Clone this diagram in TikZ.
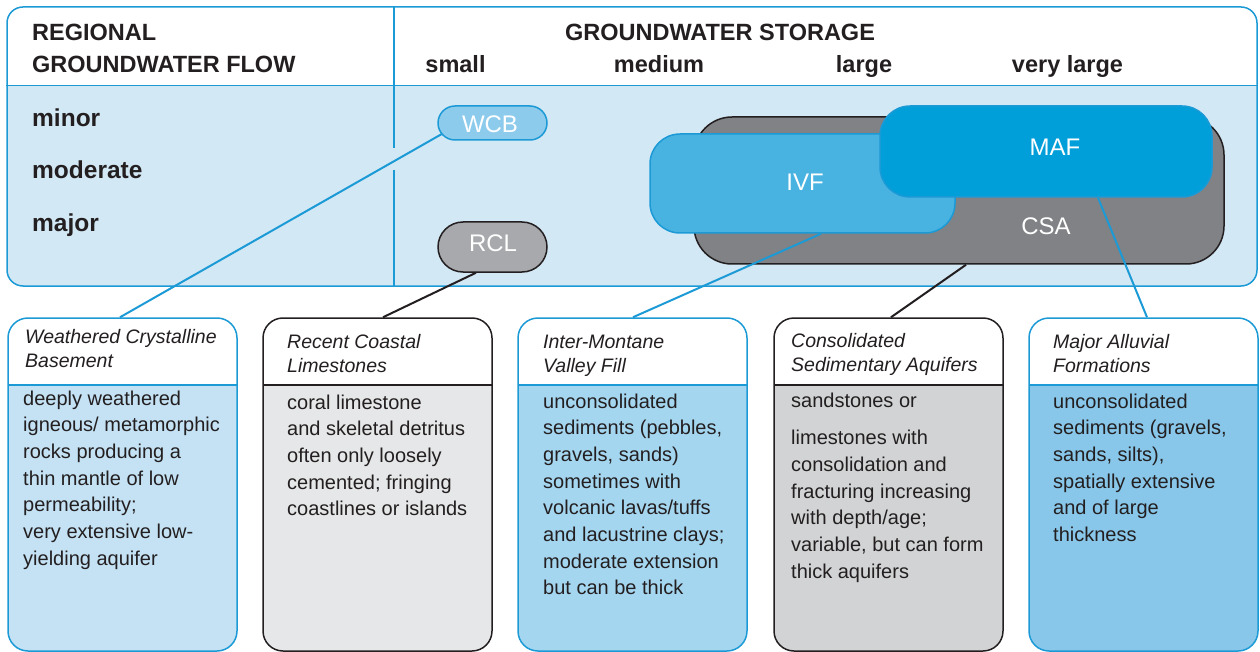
\documentclass[tikz,border=0pt]{standalone}
\usepackage{fontspec}
\setmainfont{Liberation Sans}
\usetikzlibrary{calc}
\definecolor{blueLine}{HTML}{1B9AD6}
\definecolor{darkLine}{HTML}{231F20}
\definecolor{bandFill}{HTML}{D3E8F5}
\definecolor{wcbFill}{HTML}{8DCBEC}
\definecolor{ivfFill}{HTML}{48B2E1}
\definecolor{mafFill}{HTML}{009FD9}
\definecolor{csaFill}{HTML}{808285}
\definecolor{rclFill}{HTML}{A7A9AC}
\definecolor{bodyA}{HTML}{C4E2F4}
\definecolor{bodyB}{HTML}{E6E7E8}
\definecolor{bodyC}{HTML}{A5D6F0}
\definecolor{bodyD}{HTML}{D1D3D4}
\definecolor{bodyE}{HTML}{88C7E9}
\definecolor{txt}{HTML}{231F20}
\begin{document}
\begin{tikzpicture}[x=1pt,y=-1pt,
  tablebox/.style={draw=blueLine, line width=1.5pt, rounded corners=16pt, fill=white,
    minimum width=1250pt, minimum height=279pt, inner sep=0pt,
    path picture={\fill[bandFill, sharp corners] ([yshift=-79pt]path picture bounding box.north west) rectangle (path picture bounding box.south east);}},
  infobox/.style 2 args={draw=#1, fill=#2, line width=1.5pt, rounded corners=20pt,
    minimum width=229pt, minimum height=333pt, inner sep=0pt,
    path picture={\fill[white, sharp corners] (path picture bounding box.north west) rectangle ([yshift=-67pt]path picture bounding box.north east);
      \draw[#1, line width=1.5pt, sharp corners] ([yshift=-67pt]path picture bounding box.north west) -- ([yshift=-67pt]path picture bounding box.north east);}},
  blob/.style={line width=1.5pt, inner sep=0pt},
  head/.style={font=\bfseries\fontsize{23.5}{32}\selectfont, text=txt, inner sep=0pt},
  rowlab/.style={font=\bfseries\fontsize{24.5}{28}\selectfont, text=txt, inner sep=0pt, anchor=base west},
  blobtxt/.style={font=\fontsize{24}{28}\selectfont, text=white, inner sep=0pt},
  ttl/.style={font=\itshape\fontsize{19.5}{24.5}\selectfont, text=txt, inner sep=0pt, anchor=base west, align=left},
  body/.style={font=\fontsize{20}{26.7}\selectfont, text=txt, inner sep=0pt, anchor=base west, align=left},
  conB/.style={blueLine, line width=2pt},
  conK/.style={darkLine, line width=2pt}
]
\useasboundingbox (0,0) rectangle (1260,652);

% ---------- top table ----------
\node[tablebox] (table) at (632,146.5) {};
\draw[blueLine, line width=1.2pt] ([yshift=-79pt]table.north west) -- ([yshift=-79pt]table.north east);
\draw[blueLine, line width=1.2pt] (394,7) -- (394,148);
\draw[blueLine, line width=1.2pt] (394,170) -- (394,286);

% multi-line nodes: base anchor = baseline of last line
\node[head, anchor=base west, align=left] (hflow) at (32,73) {REGIONAL\\GROUNDWATER FLOW};
\node[head, anchor=base] (hstore) at (720,41) {GROUNDWATER STORAGE};
\node[head, anchor=base] (hsmall) at (455.5,73) {small};
\node[head, anchor=base] (hmed) at (659,73) {medium};
\node[head, anchor=base] (hlarge) at (864,73) {large};
\node[head, anchor=base] (hvlarge) at (1067.5,73) {very large};

\node[rowlab] (rminor) at (32,127) {minor};
\node[rowlab] (rmod) at (32,179) {moderate};
\node[rowlab] (rmajor) at (32,232) {major};

% ---------- chart blobs ----------
\node[blob, draw=darkLine, fill=csaFill, rounded corners=38pt, minimum width=530pt, minimum height=147pt] (csa) at (959,190.5) {};
\node[blob, draw=blueLine, fill=ivfFill, rounded corners=30pt, minimum width=305pt, minimum height=99pt] (ivf) at (802.5,183.5) {};
\node[blob, draw=blueLine, fill=mafFill, rounded corners=30pt, minimum width=332pt, minimum height=91pt] (maf) at (1046,151.5) {};
\node[blob, draw=blueLine, fill=wcbFill, rounded corners=17pt, minimum width=109pt, minimum height=34pt] (wcb) at (492.5,123) {};
\node[blob, draw=darkLine, fill=rclFill, rounded corners=25pt, minimum width=109pt, minimum height=50pt] (rcl) at (492.5,247) {};

\node[blobtxt] (wcbT) at (490,124) {WCB};
\node[blobtxt] (rclT) at (493,243) {RCL};
\node[blobtxt] (ivfT) at (805,182) {IVF};
\node[blobtxt] (mafT) at (1055,147.5) {MAF};
\node[blobtxt] (csaT) at (1046,226.5) {CSA};

% ---------- bottom boxes ----------
\node[infobox={blueLine}{bodyA}] (b1) at (122.5,484.5) {};
\node[infobox={darkLine}{bodyB}] (b2) at (377.5,484.5) {};
\node[infobox={blueLine}{bodyC}] (b3) at (632.5,484.5) {};
\node[infobox={darkLine}{bodyD}] (b4) at (888.5,484.5) {};
\node[infobox={blueLine}{bodyE}] (b5) at (1143.5,484.5) {};

\node[ttl] (t1) at (25,367.5) {Weathered Crystalline\\Basement};
\node[ttl] (t2) at (287,372.5) {Recent Coastal\\Limestones};
\node[ttl] (t3) at (543,372.5) {Inter-Montane\\Valley Fill};
\node[ttl] (t4) at (791,371.5) {Consolidated\\Sedimentary Aquifers};
\node[ttl] (t5) at (1053,372.5) {Major Alluvial\\Formations};

\node[body] (d1) at (23,565.2) {deeply weathered\\igneous/ metamorphic\\rocks producing a\\thin mantle of low\\permeability;\\very extensive low-\\yielding aquifer};
\node[body] (d2) at (287,515.8) {coral limestone\\and skeletal detritus\\often only loosely\\cemented; fringing\\coastlines or islands};
\node[body] (d3) at (543,594.9) {unconsolidated\\sediments (pebbles,\\gravels, sands)\\sometimes with\\volcanic lavas/tuffs\\and lacustrine clays;\\moderate extension\\but can be thick};
\node[body] (d4) at (791,578.2) {sandstones or\\[11pt]limestones with\\consolidation and\\fracturing increasing\\with depth/age;\\variable, but can form\\thick aquifers};
\node[body] (d5) at (1053,541.5) {unconsolidated\\sediments (gravels,\\sands, silts),\\spatially extensive\\and of large\\thickness};

% ---------- connectors ----------
\draw[conB] ([xshift=5pt,yshift=7pt]wcb.south west) -- ([xshift=-2.5pt]b1.north);
\draw[conK] ([xshift=-16.5pt]rcl.south) -- ([xshift=5.5pt]b2.north);
\draw[conB] ([xshift=18.5pt]ivf.south) -- ([xshift=0.5pt]b3.north);
\draw[conK] ([xshift=7pt]csa.south) -- ([xshift=2.5pt]b4.north);
\draw[conB] ([xshift=52pt]maf.south) -- ([xshift=3.5pt]b5.north);
\end{tikzpicture}
\end{document}
